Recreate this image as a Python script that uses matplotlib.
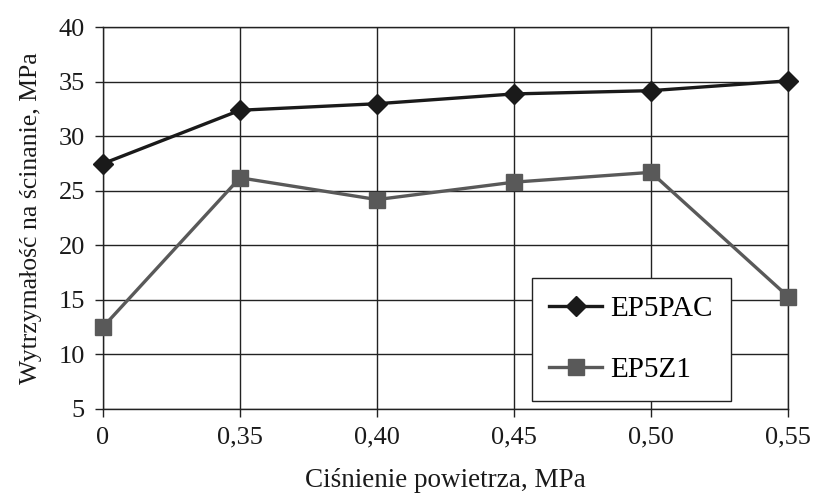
import matplotlib
matplotlib.use("Agg")
from matplotlib import pyplot as plt

# dane
cisnienie = ["0", "0,35", "0,40", "0,45", "0,50", "0,55"]
ep5pac = [27.5, 32.4, 33.0, 33.9, 34.2, 35.1]
ep5z1 = [12.5, 26.2, 24.2, 25.8, 26.7, 15.3]

plt.rcParams['font.family'] = ['Liberation Serif', 'DejaVu Serif']

fig = plt.figure(figsize=(8.16, 4.96), dpi=100)
ax = fig.add_axes([0.1262, 0.176, 0.8395, 0.7686])

x = list(range(len(cisnienie)))
ax.plot(x, ep5pac, color='#1a1a1a', linewidth=2.4, marker='D', markersize=10,
        label='EP5PAC', clip_on=False, zorder=4)
ax.plot(x, ep5z1, color='#595959', linewidth=2.4, marker='s', markersize=12,
        label='EP5Z1', clip_on=False, zorder=3)

ax.set_xlim(0, len(cisnienie) - 1)
ax.set_ylim(5, 40)
ax.set_xticks(x)
ax.set_xticklabels(cisnienie)
ax.set_yticks(range(5, 41, 5))
ax.grid(True, color='#222222', linewidth=1)
ax.set_axisbelow(True)
for s in ax.spines.values():
    s.set_color('#222222')
    s.set_linewidth(1)
ax.tick_params(axis='both', labelsize=19, length=6, width=1, color='#222222',
               labelcolor='#1a1a1a')
ax.tick_params(axis='x', pad=7)
ax.tick_params(axis='y', pad=7)

ax.set_xlabel('Ciśnienie powietrza, MPa', fontsize=19.5, color='#1a1a1a', labelpad=14)
ax.set_ylabel('Wytrzymałość na ścinanie, MPa', fontsize=18.5, color='#1a1a1a', labelpad=12)

leg = ax.legend(loc='upper left', bbox_to_anchor=(0.626, 0.343), fontsize=21,
                fancybox=False, framealpha=1, edgecolor='#222222',
                borderpad=0.6, borderaxespad=0, labelspacing=1.2,
                handlelength=1.8, handletextpad=0.3)
leg.get_frame().set_linewidth(1)
leg.set_zorder(5)

fig.savefig('out.png', dpi=100)
